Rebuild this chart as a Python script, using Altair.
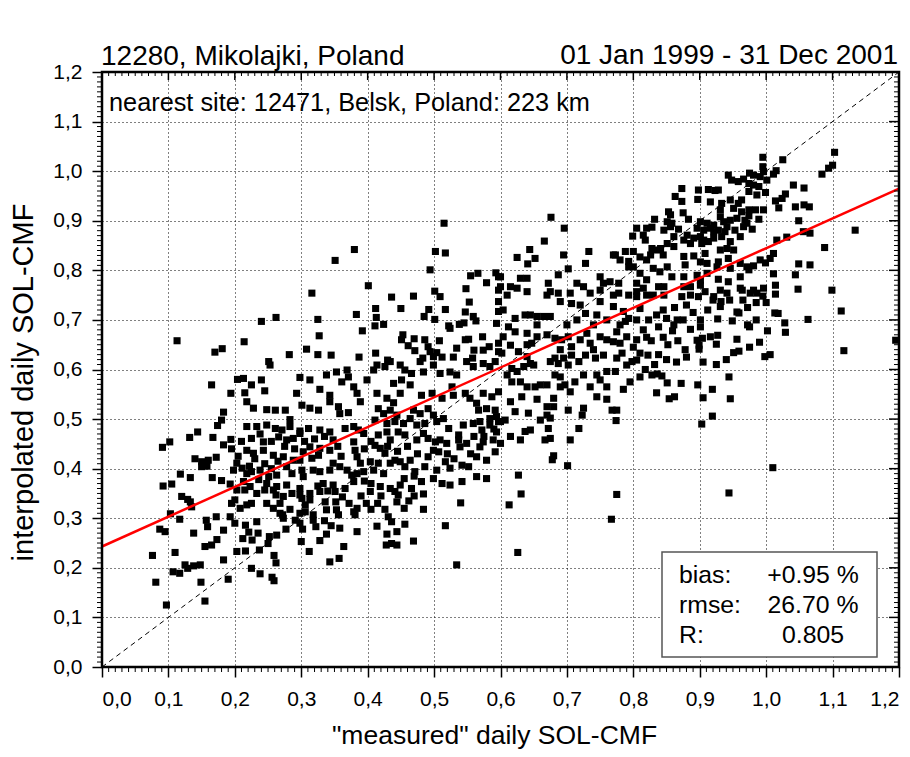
import altair as alt
import pandas as pd

FONT = "Liberation Sans"
W, H = 797, 595

STATION = "12280, Mikolajki, Poland"
PERIOD = "01 Jan 1999 - 31 Dec 2001"
NEAREST = "nearest site: 12471, Belsk, Poland: 223 km"
X_TITLE = '"measured" daily SOL-CMF'
Y_TITLE = "interpolated daily SOL-CMF"
STAT_LABELS = ["bias:", "rmse:", "R:"]
STAT_VALUES = ["+0.95 %", "26.70 %", "0.805"]

# (measured, interpolated) pairs, grouped by region
pts_left_upper = [(0.515,0.895),(0.380,0.842),(0.351,0.820),(0.502,0.838),(0.517,0.835),(0.494,0.801),(0.555,0.789),(0.566,0.794),(0.593,0.795),(0.597,0.787),(0.579,0.775),(0.548,0.763),(0.597,0.760),(0.401,0.769),(0.316,0.754),(0.436,0.746),(0.469,0.748),(0.501,0.758),(0.509,0.747),(0.553,0.736),(0.597,0.737),(0.412,0.723),(0.450,0.723),(0.492,0.721),(0.517,0.721),(0.547,0.716),(0.383,0.711),(0.413,0.705),(0.485,0.707),(0.501,0.701),(0.559,0.707),(0.563,0.698),(0.597,0.717),(0.240,0.697),(0.262,0.705),(0.325,0.701),(0.411,0.688),(0.424,0.691),(0.522,0.688),(0.524,0.683),(0.538,0.691),(0.545,0.694),(0.594,0.693),(0.392,0.678),(0.327,0.668),(0.214,0.656),(0.113,0.658),(0.170,0.635),(0.181,0.642),(0.282,0.630),(0.308,0.641),(0.325,0.630),(0.345,0.629),(0.387,0.625),(0.412,0.633),(0.430,0.619),(0.453,0.670),(0.451,0.660),(0.470,0.662),(0.486,0.660),(0.461,0.648),(0.471,0.638),(0.491,0.646),(0.494,0.636),(0.504,0.634),(0.508,0.658),(0.534,0.643),(0.547,0.660),(0.552,0.661),(0.573,0.666),(0.560,0.639),(0.574,0.639),(0.583,0.646),(0.597,0.653),(0.597,0.636),(0.483,0.623),(0.512,0.625),(0.529,0.625),(0.558,0.623),(0.499,0.626)]

pts_left_middle = [(0.165,0.569),(0.091,0.443),(0.102,0.454),(0.132,0.463),(0.144,0.474),(0.167,0.463),(0.183,0.514),(0.180,0.498),(0.174,0.487),(0.194,0.459),(0.183,0.448),(0.140,0.420),(0.150,0.414),(0.160,0.417),(0.172,0.423),(0.150,0.404),(0.158,0.405),(0.118,0.389),(0.133,0.382),(0.105,0.369),(0.092,0.365),(0.166,0.382),(0.180,0.376),(0.193,0.369),
(0.194,0.552),(0.204,0.580),(0.213,0.582),(0.225,0.569),(0.240,0.579),(0.253,0.609),(0.251,0.616),(0.218,0.535),(0.228,0.522),(0.215,0.553),(0.245,0.557),(0.248,0.519),(0.261,0.518),(0.276,0.518),(0.283,0.499),(0.298,0.584),(0.313,0.579),(0.293,0.552),(0.301,0.528),(0.313,0.522),(0.326,0.518),(0.328,0.560),(0.343,0.548),(0.338,0.589),(0.353,0.595),(0.369,0.599),(0.371,0.585),(0.343,0.535),(0.356,0.525),(0.371,0.513),(0.358,0.511),(0.361,0.575),(0.379,0.565),(0.384,0.552),(0.389,0.535),(0.399,0.579),(0.409,0.599),(0.414,0.609),(0.426,0.606),(0.434,0.616),(0.449,0.609),(0.456,0.599),(0.466,0.592),(0.439,0.572),(0.451,0.579),(0.464,0.569),(0.414,0.552),(0.429,0.542),(0.439,0.533),(0.449,0.552),(0.479,0.616),(0.484,0.595),(0.499,0.609),(0.509,0.592),(0.524,0.595),(0.534,0.589),(0.549,0.616),(0.559,0.606),(0.574,0.612),(0.584,0.606),(0.592,0.616),(0.481,0.548),(0.497,0.552),(0.512,0.542),(0.527,0.565),(0.529,0.548),(0.547,0.552),(0.554,0.542),(0.564,0.532),(0.574,0.552),(0.587,0.545),(0.597,0.555),(0.567,0.518),(0.579,0.521),(0.592,0.518),(0.594,0.505),(0.584,0.501),(0.416,0.521),(0.424,0.511),(0.434,0.518),(0.444,0.508),(0.469,0.518),(0.479,0.511),(0.491,0.521),(0.499,0.508),(0.504,0.495),(0.514,0.501),(0.411,0.498),(0.429,0.491),(0.441,0.495),(0.454,0.491),(0.464,0.501),(0.474,0.488),(0.486,0.491),(0.522,0.481),(0.544,0.488),(0.559,0.491),(0.569,0.495),(0.572,0.478),(0.584,0.488),
(0.218,0.485),(0.233,0.485),(0.248,0.488),(0.261,0.481),(0.271,0.478),(0.283,0.485),(0.298,0.476),(0.311,0.481),(0.328,0.478),(0.343,0.474),(0.266,0.464),(0.278,0.458),(0.288,0.461),(0.298,0.471),(0.225,0.461),(0.243,0.454),(0.366,0.481),(0.379,0.485),(0.386,0.478),(0.394,0.471),(0.416,0.468),(0.429,0.474),(0.434,0.458),(0.446,0.474),(0.456,0.468),(0.411,0.447),(0.419,0.441),(0.426,0.431),(0.474,0.458),(0.484,0.471),(0.491,0.461),(0.502,0.454),(0.509,0.458),(0.519,0.451),(0.537,0.458),(0.539,0.444),(0.499,0.437),(0.507,0.434),(0.491,0.424),(0.517,0.414),(0.379,0.454),(0.381,0.437),(0.384,0.424),(0.389,0.411),(0.348,0.458),(0.343,0.437),(0.328,0.441),(0.326,0.427),(0.313,0.444),(0.303,0.434),(0.316,0.421),(0.298,0.417),(0.218,0.437),(0.228,0.431),(0.243,0.437),(0.258,0.427),(0.273,0.424),(0.288,0.417),(0.203,0.411),(0.198,0.397),(0.211,0.401),(0.218,0.390),(0.225,0.394),(0.238,0.397),(0.251,0.384),(0.263,0.387),(0.278,0.404),(0.286,0.390),(0.301,0.397),(0.303,0.384),(0.318,0.397),(0.328,0.394),(0.343,0.397),(0.348,0.411),(0.358,0.404),(0.369,0.397),(0.376,0.387),(0.384,0.390),(0.394,0.394),(0.404,0.414),(0.409,0.397),(0.416,0.411),(0.424,0.390),(0.434,0.411),(0.441,0.417),(0.449,0.414),(0.456,0.404),(0.464,0.417),(0.471,0.394),(0.486,0.404),(0.504,0.397),(0.524,0.401),(0.542,0.407),(0.552,0.404),(0.481,0.374),(0.499,0.380),(0.512,0.370),(0.524,0.367),(0.542,0.374),(0.564,0.384),(0.579,0.380),(0.569,0.444),(0.574,0.454),(0.589,0.458),(0.594,0.474),(0.597,0.495),(0.549,0.451),(0.537,0.468),(0.564,0.424),(0.579,0.417),(0.592,0.434),(0.419,0.364),(0.434,0.360),(0.449,0.367),(0.466,0.360),(0.333,0.370),(0.348,0.367),(0.366,0.360),(0.379,0.374),(0.248,0.370),(0.263,0.364),(0.278,0.367),(0.298,0.360),(0.213,0.374),(0.223,0.364)]

pts_left_dense_extra = [(0.205,0.425),(0.222,0.405),(0.236,0.378),(0.262,0.347),(0.268,0.330),(0.283,0.318),(0.291,0.296),(0.318,0.296),(0.322,0.283),(0.335,0.295),(0.345,0.285),(0.352,0.333),(0.362,0.343),(0.372,0.330),(0.390,0.345),(0.398,0.330),(0.405,0.318),(0.415,0.330),(0.420,0.345),(0.455,0.320),(0.462,0.335),(0.470,0.345),(0.455,0.380),(0.470,0.385),(0.395,0.375),(0.405,0.370),(0.325,0.365),(0.340,0.355),(0.230,0.420),(0.245,0.410),(0.255,0.400),(0.265,0.415),(0.195,0.440),(0.210,0.455),(0.238,0.470),(0.255,0.455),(0.275,0.445),(0.290,0.440),(0.305,0.455),(0.320,0.460),(0.335,0.465),(0.355,0.445),(0.360,0.425),(0.395,0.440),(0.405,0.455),(0.430,0.445),(0.445,0.435),(0.460,0.445),(0.475,0.430),(0.520,0.430),(0.530,0.420),(0.555,0.430),(0.560,0.465),(0.590,0.480),(0.575,0.465)]

pts_left_lower = [(0.120,0.344),(0.129,0.338),(0.135,0.323),(0.133,0.333),(0.103,0.309),(0.117,0.298),(0.087,0.278),(0.095,0.273),(0.076,0.225),(0.081,0.171),(0.097,0.125),(0.110,0.231),(0.107,0.192),(0.117,0.189),(0.125,0.206),(0.129,0.199),(0.138,0.204),(0.148,0.206),(0.149,0.171),(0.155,0.133),(0.138,0.270),(0.157,0.296),(0.159,0.283),(0.172,0.303),(0.183,0.276),(0.155,0.243),(0.165,0.246),(0.173,0.257),(0.183,0.216),(0.190,0.177),(0.195,0.330),(0.200,0.337),(0.208,0.320),(0.218,0.327),(0.225,0.330),(0.193,0.303),(0.200,0.290),(0.203,0.357),(0.215,0.357),(0.233,0.350),(0.245,0.357),(0.258,0.357),(0.273,0.344),(0.286,0.350),(0.298,0.347),(0.313,0.350),(0.328,0.354),(0.351,0.354),(0.248,0.330),(0.258,0.320),(0.268,0.310),(0.273,0.300),(0.301,0.340),(0.313,0.337),(0.306,0.327),(0.336,0.333),(0.338,0.317),(0.298,0.310),(0.306,0.313),(0.318,0.307),(0.298,0.290),(0.353,0.317),(0.356,0.307),(0.384,0.320),(0.379,0.313),(0.381,0.307),(0.358,0.280),(0.384,0.273),(0.404,0.354),(0.441,0.354),(0.446,0.347),(0.444,0.333),(0.484,0.349),(0.484,0.318),(0.426,0.318),(0.431,0.303),(0.436,0.293),(0.456,0.288),(0.444,0.273),(0.414,0.284),(0.429,0.268),(0.428,0.246),(0.436,0.249),(0.444,0.246),(0.469,0.254),(0.517,0.285),(0.540,0.331),(0.534,0.206),(0.203,0.233),(0.216,0.234),(0.237,0.236),(0.212,0.259),(0.226,0.256),(0.235,0.270),(0.221,0.272),(0.216,0.286),(0.233,0.293),(0.252,0.263),(0.250,0.249),(0.263,0.266),(0.225,0.199),(0.238,0.188),(0.256,0.181),(0.259,0.174),(0.259,0.225),(0.262,0.210),(0.272,0.307),(0.277,0.278),(0.300,0.253),(0.312,0.233),(0.328,0.255),(0.338,0.268),(0.343,0.212),(0.357,0.219),(0.364,0.243),(0.302,0.278)]

pts_right_upper = [(1.103,1.038),(1.100,1.012),(1.094,1.006),(1.084,0.994),(1.025,1.023),(0.995,1.028),(0.995,1.009),(0.996,0.999),(1.001,0.982),(0.991,0.989),(0.981,0.992),(1.015,1.001),(1.011,0.994),(0.975,0.996),(0.966,0.984),(0.974,0.975),(0.981,0.972),(0.989,0.969),(0.943,0.992),(0.948,0.982),(0.958,0.979),(0.974,0.959),(0.986,0.952),(0.999,0.957),(1.041,0.972),(1.057,0.966),(1.029,0.954),(1.024,0.945),(1.014,0.940),(1.019,0.926),(1.044,0.928),(1.057,0.932),(1.065,0.928),(1.049,0.900),(1.056,0.878),(1.066,0.875),(1.134,0.881),(1.088,0.846),(1.049,0.813),(1.066,0.811),(1.044,0.791),(1.048,0.762),(1.099,0.760),(1.016,0.861),(1.031,0.867),(1.011,0.834),(1.006,0.824),(0.999,0.815),(0.991,0.821),(1.011,0.793),(1.014,0.770),(1.014,0.752),(0.995,0.748),(0.976,0.754),(0.964,0.760),(0.974,0.801),(0.981,0.809),(0.961,0.787),(0.943,0.777),(0.928,0.782),(0.911,0.794),(0.911,0.814),(0.928,0.817),(0.943,0.824),(0.931,0.841),(0.941,0.844),(0.903,0.854),(0.913,0.858),(0.921,0.865),(0.933,0.868),(0.913,0.963),(0.923,0.961),(0.928,0.962),(0.898,0.962),(0.897,0.943),(0.916,0.938),(0.933,0.935),(0.946,0.942),(0.958,0.935),(0.963,0.942),(0.951,0.925),(0.963,0.918),(0.974,0.922),(0.984,0.922),(0.996,0.922),(0.931,0.922),(0.931,0.908),(0.936,0.898),(0.946,0.901),(0.956,0.905),(0.968,0.901),(0.974,0.910),(0.989,0.903),(0.901,0.898),(0.911,0.895),(0.921,0.891),(0.896,0.885),(0.906,0.881),(0.916,0.885),(0.928,0.881),(0.941,0.888),(0.953,0.881),(0.966,0.888),(0.971,0.895),(0.979,0.883),(0.961,0.868),(0.881,0.871),(0.891,0.865),(0.901,0.868),(0.906,0.861),(0.886,0.854),(0.876,0.861),(0.921,0.878),(0.938,0.878),(0.946,0.858),(0.951,0.841),(0.873,0.965),(0.863,0.949),(0.873,0.939),(0.875,0.916),(0.853,0.918),(0.856,0.912),(0.832,0.903),(0.883,0.903),(0.805,0.885),(0.820,0.885),(0.828,0.887),(0.815,0.871),(0.799,0.869),(0.818,0.861),(0.846,0.881),(0.856,0.888),(0.868,0.883),(0.861,0.868),(0.851,0.854),(0.861,0.848),(0.841,0.844),(0.828,0.844),(0.835,0.841),(0.845,0.831),(0.826,0.831),(0.800,0.838),(0.788,0.838),(0.773,0.831),(0.780,0.821),(0.793,0.818),(0.800,0.807),(0.810,0.827),(0.820,0.821),(0.876,0.828),(0.891,0.829),(0.908,0.834),(0.878,0.811),(0.901,0.817),(0.830,0.804),(0.840,0.797),(0.851,0.807),(0.810,0.794),(0.820,0.781),(0.805,0.774),(0.815,0.764),(0.846,0.767),(0.858,0.787),(0.876,0.787),(0.901,0.770),(0.908,0.757),(0.898,0.747),(0.921,0.747),(0.873,0.747),(0.886,0.750),(0.830,0.750),(0.820,0.750),(0.676,0.907),(0.696,0.885),(0.666,0.859),(0.644,0.842),(0.625,0.826),(0.652,0.824),(0.641,0.813),(0.695,0.831),(0.733,0.838),(0.728,0.814),(0.702,0.803),(0.687,0.791),(0.600,0.787),(0.615,0.767),(0.630,0.784),(0.640,0.784),(0.625,0.764),(0.640,0.757),(0.610,0.750),(0.600,0.767),(0.672,0.774),(0.675,0.757),(0.670,0.750),(0.687,0.754),(0.705,0.754),(0.715,0.774),(0.725,0.767),(0.735,0.754),(0.750,0.787),(0.755,0.774),(0.750,0.760),(0.765,0.777),(0.778,0.774),(0.778,0.754),(0.770,0.750),(0.770,0.831),(0.793,0.807),(0.805,0.757),(0.805,0.747),(0.793,0.750),(0.838,0.767),(0.846,0.750),(0.851,0.898),(0.858,0.895),(0.896,0.790),(0.901,0.780),(0.926,0.807),(0.946,0.804),(0.961,0.814),(0.971,0.807),(0.981,0.760),(0.986,0.754),(0.996,0.764),(0.961,0.764),(0.931,0.760),(0.941,0.754),(0.876,0.767),(0.886,0.767)]

pts_right_middle = [(1.113,0.718),(1.063,0.701),(1.117,0.638),(1.195,0.659),(1.013,0.714),(1.018,0.713),(1.028,0.694),(1.029,0.675),(1.002,0.678),(0.972,0.725),(0.956,0.716),(0.959,0.714),(0.949,0.698),(0.972,0.690),(0.975,0.686),(0.956,0.661),(0.951,0.634),(0.959,0.637),(0.998,0.626),(1.006,0.630),(0.944,0.585),(0.946,0.541),(0.919,0.560),(0.905,0.543),(0.919,0.506),(0.903,0.490),(0.897,0.569),(0.872,0.572),(0.851,0.573),(0.835,0.553),(0.854,0.541),(0.862,0.545),(0.828,0.589),(0.836,0.591),(0.843,0.587),(0.838,0.630),(0.822,0.629),(0.827,0.658),(0.867,0.658),(0.886,0.681),(0.896,0.659),(0.899,0.649),(0.899,0.641),(0.904,0.663),(0.916,0.666),(0.927,0.669),(0.925,0.651),(0.901,0.700),(0.901,0.686),(0.927,0.702),(0.931,0.727),(0.932,0.737),(0.861,0.690),(0.866,0.700),(0.859,0.678),(0.838,0.686),
(0.604,0.720),(0.622,0.703),(0.637,0.710),(0.645,0.710),(0.655,0.707),(0.665,0.707),(0.675,0.707),(0.690,0.737),(0.707,0.733),(0.720,0.730),(0.728,0.713),(0.745,0.710),(0.750,0.737),(0.770,0.727),(0.785,0.717),(0.788,0.697),(0.793,0.703),(0.805,0.700),(0.810,0.723),(0.823,0.700),(0.835,0.710),(0.845,0.720),(0.850,0.703),(0.612,0.686),(0.604,0.666),(0.602,0.633),(0.622,0.676),(0.640,0.673),(0.647,0.653),(0.655,0.666),(0.670,0.670),(0.682,0.663),(0.692,0.660),(0.702,0.666),(0.707,0.646),(0.720,0.660),(0.730,0.673),(0.735,0.653),(0.750,0.666),(0.760,0.660),(0.770,0.656),(0.775,0.676),(0.790,0.666),(0.780,0.653),(0.805,0.660),(0.810,0.633),(0.615,0.649),(0.627,0.636),(0.640,0.626),(0.645,0.612),(0.635,0.606),(0.650,0.609),(0.617,0.602),(0.625,0.596),(0.610,0.589),(0.617,0.575),(0.630,0.575),(0.640,0.565),(0.652,0.565),(0.660,0.569),(0.670,0.569),(0.675,0.616),(0.682,0.623),(0.687,0.612),(0.695,0.623),(0.702,0.609),(0.707,0.629),(0.718,0.616),(0.728,0.629),(0.743,0.623),(0.755,0.629),(0.775,0.623),(0.783,0.633),(0.790,0.609),(0.798,0.616),(0.805,0.619),(0.682,0.589),(0.697,0.569),(0.705,0.555),(0.690,0.565),(0.725,0.589),(0.745,0.589),(0.760,0.596),(0.773,0.596),(0.760,0.565),(0.750,0.579),(0.680,0.542),(0.670,0.525),(0.680,0.525),(0.670,0.508),(0.660,0.498),(0.675,0.502),(0.702,0.518),(0.725,0.522),(0.723,0.508),(0.768,0.518),(0.775,0.518),(0.774,0.497),(0.622,0.515),(0.642,0.512),(0.645,0.478),(0.637,0.475),(0.607,0.498),(0.600,0.495),(0.672,0.481),(0.718,0.481),(0.675,0.461),(0.667,0.458),(0.630,0.458),(0.615,0.465),(0.705,0.458),(0.600,0.451),(0.680,0.426)]

pts_right_dense_extra = [(0.615,0.535),(0.632,0.545),(0.655,0.540),(0.690,0.585),(0.712,0.575),(0.735,0.565),(0.745,0.545),(0.760,0.540),(0.785,0.560),(0.795,0.575),(0.810,0.585),(0.818,0.600),(0.832,0.610),(0.850,0.620),(0.865,0.615),(0.880,0.625),(0.878,0.640),(0.852,0.650),(0.845,0.665),(0.875,0.700),(0.890,0.715),(0.880,0.730),(0.862,0.725),(0.912,0.720),(0.920,0.740),(0.945,0.740),(0.965,0.740),(0.985,0.735),(1.000,0.735),(0.985,0.700),(0.990,0.655),(0.975,0.645),(0.940,0.620),(0.925,0.610),(0.905,0.615),(0.700,0.690),(0.715,0.700),(0.740,0.690),(0.760,0.700),(0.780,0.690),(0.655,0.690),(0.640,0.650),(0.690,0.640),(0.740,0.640),(0.800,0.645),(0.820,0.665),(0.815,0.680)]

pts_right_lower = [(0.627,0.387),(0.631,0.349),(0.613,0.327),(0.701,0.406),(0.678,0.418),(0.775,0.348),(0.767,0.298),(0.626,0.231),(0.944,0.351),(1.010,0.402)]

# 1:1 diagonal and the red regression line
diag_x = [0.0, 1.2]
diag_y = [0.0, 1.2]
fit_x = [0.0, 1.2]
fit_y = [0.243, 0.965]

major_ticks = [0.0, 0.1, 0.2, 0.3, 0.4, 0.5, 0.6, 0.7, 0.8, 0.9, 1.0, 1.1, 1.2]
minor_ticks = [i / 100 for i in range(121) if i % 10 != 0]

points = (pts_left_upper + pts_left_middle + pts_left_dense_extra + pts_left_lower
          + pts_right_upper + pts_right_middle + pts_right_dense_extra + pts_right_lower)
df = pd.DataFrame(points, columns=["measured", "interpolated"])
diag_df = pd.DataFrame({"measured": diag_x, "interpolated": diag_y})
fit_df = pd.DataFrame({"measured": fit_x, "interpolated": fit_y})
minor_df = pd.DataFrame({"measured": minor_ticks, "interpolated": minor_ticks})
major_df = pd.DataFrame({"measured": major_ticks, "interpolated": major_ticks})
one = pd.DataFrame({"a": [0]})

xscale = alt.Scale(domain=[0, 1.2], nice=False, zero=False)
yscale = alt.Scale(domain=[0, 1.2], nice=False, zero=False)

label_expr = "replace(format(datum.value, '.1f'), '.', ',')"
common_axis = dict(
    values=major_ticks, labelExpr=label_expr, domain=False,
    tickColor="black", tickWidth=1.5, tickSize=10,
    labelFont=FONT, labelFontSize=21, labelColor="black",
    grid=True, gridColor="black", gridDash=[1, 3], gridWidth=1, gridOpacity=1,
    titleFont=FONT, titleFontWeight="normal", titleColor="black",
)
x_axis = alt.Axis(title=X_TITLE, labelPadding=11, titleFontSize=26.5,
                  titleX=392, titleY=76, titleBaseline="alphabetic", **common_axis)
y_axis = alt.Axis(title=Y_TITLE, labelPadding=10, titleFontSize=29,
                  titleX=-79, titleY=310, titleBaseline="middle", titleAngle=270,
                  **common_axis)

XQ = alt.X("measured:Q", scale=xscale, axis=x_axis)
YQ = alt.Y("interpolated:Q", scale=yscale, axis=y_axis)

scatter = alt.Chart(df).mark_square(size=50, color="black", opacity=1, filled=True).encode(
    x=XQ, y=YQ)
diag = alt.Chart(diag_df).mark_line(color="black", strokeWidth=1, strokeDash=[5, 4]).encode(
    x=XQ, y=YQ)
fit = alt.Chart(fit_df).mark_line(color="#ff0000", strokeWidth=2.5).encode(x=XQ, y=YQ)

tick_style = dict(color="black", strokeWidth=1)
minor_bottom = alt.Chart(minor_df).mark_rule(**tick_style).encode(
    x=XQ, y=alt.value(H), y2=alt.value(H + 5))
minor_left = alt.Chart(minor_df).mark_rule(**tick_style).encode(
    y=YQ, x=alt.value(0), x2=alt.value(-5))
minor_top = alt.Chart(minor_df).mark_rule(**tick_style).encode(
    x=XQ, y=alt.value(0), y2=alt.value(4))
minor_right = alt.Chart(minor_df).mark_rule(**tick_style).encode(
    y=YQ, x=alt.value(W), x2=alt.value(W - 5))
major_top = alt.Chart(major_df).mark_rule(color="black", strokeWidth=1.5).encode(
    x=XQ, y=alt.value(0), y2=alt.value(8))
major_right = alt.Chart(major_df).mark_rule(color="black", strokeWidth=1.5).encode(
    y=YQ, x=alt.value(W), x2=alt.value(W - 10))

frame = alt.Chart(one).mark_rect(fillOpacity=0, stroke="black", strokeWidth=2.5).encode(
    x=alt.value(0), x2=alt.value(W), y=alt.value(0), y2=alt.value(H))

txt = dict(font=FONT, color="black")
head_left = alt.Chart(one).mark_text(text=STATION, fontSize=28, align="left",
                                     baseline="alphabetic", **txt).encode(
    x=alt.value(-1), y=alt.value(-7))
head_right = alt.Chart(one).mark_text(text=PERIOD, fontSize=28, align="right",
                                      baseline="alphabetic", **txt).encode(
    x=alt.value(W - 1), y=alt.value(-8))
note = alt.Chart(one).mark_text(text=NEAREST, fontSize=25.3, align="left",
                                baseline="alphabetic", **txt).encode(
    x=alt.value(7), y=alt.value(39))

box = alt.Chart(one).mark_rect(fill="white", stroke="#555555", strokeWidth=1.5).encode(
    x=alt.value(560), x2=alt.value(775), y=alt.value(480), y2=alt.value(585))
stat_layers = []
for i, (lab, val) in enumerate(zip(STAT_LABELS, STAT_VALUES)):
    yb = 510.7 + 30.3 * i
    stat_layers.append(alt.Chart(one).mark_text(text=lab, fontSize=24.8, align="left",
                                                baseline="alphabetic", **txt).encode(
        x=alt.value(577), y=alt.value(yb)))
    stat_layers.append(alt.Chart(one).mark_text(text=val, fontSize=24.8, align="center",
                                                baseline="alphabetic", **txt).encode(
        x=alt.value(711), y=alt.value(yb)))

chart = alt.layer(
    scatter, diag, fit,
    minor_bottom, minor_left, minor_top, minor_right, major_top, major_right,
    frame, head_left, head_right, note, box, *stat_layers,
).properties(
    width=W, height=H,
    autosize=alt.AutoSizeParams(type="none"),
    padding={"left": 94, "top": 64, "right": 2, "bottom": 82},
    background="white",
).configure_view(strokeWidth=0)

chart.save("out.html", embed_options={"renderer": "svg", "actions": False})
